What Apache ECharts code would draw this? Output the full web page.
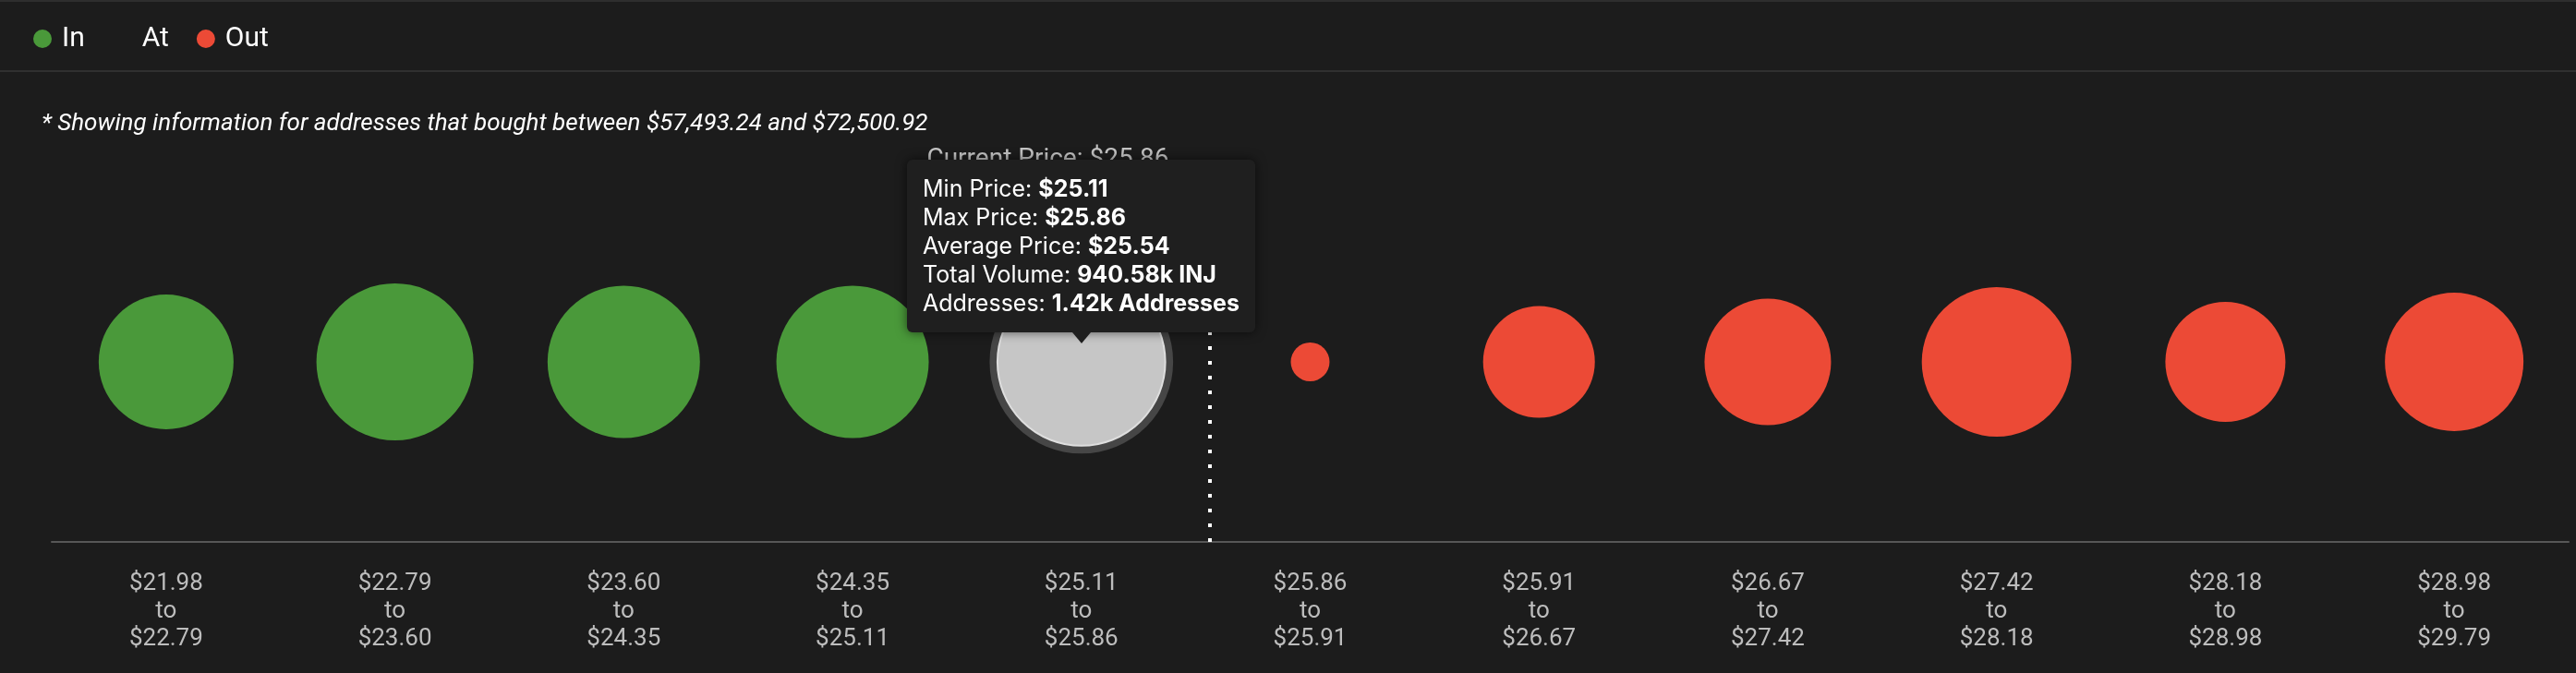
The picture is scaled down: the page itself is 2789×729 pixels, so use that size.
<!DOCTYPE html>
<html>
<head>
<meta charset="utf-8">
<title>In / At / Out of the money</title>
<script src="https://cdn.jsdelivr.net/npm/echarts@6/dist/echarts.min.js"></script>
<style>
  html, body { margin: 0; padding: 0; background: #1c1c1c; }
  #main { width: 2789px; height: 729px; }
</style>
</head>
<body>
<div id="main"></div>
<script>
// price buckets (USD)
const bucketLow = [21.98, 22.79, 23.60, 24.35, 25.11, 25.86, 25.91, 26.67, 27.42, 28.18, 28.98];
const bucketHigh = [22.79, 23.60, 24.35, 25.11, 25.86, 25.91, 26.67, 27.42, 28.18, 28.98, 29.79];
// total volume per bucket, k INJ
const volumes = [719, 975, 918, 918, 940.58, 59.5, 494, 633, 885, 570, 759];
// "in", "at" or "out" of the money
const status = ["in", "in", "in", "in", "at", "out", "out", "out", "out", "out", "out"];

const currentPrice = 25.863;
const hoverIndex = 4;
const hoverAvgPrice = 25.54;
const hoverAddresses = 1.42; // k

const categories = bucketLow.map(function (lo, i) {
  return "$" + lo.toFixed(2) + "\nto\n$" + bucketHigh[i].toFixed(2);
});

// bubble diameter from volume (area proportional)
function sizeOf(v) {
  return 167 * Math.sqrt(v / 940.58);
}

function pick(st) {
  const out = [];
  status.forEach(function (s, i) {
    if (s === st) out.push([i, 0.5, volumes[i]]);
  });
  return out;
}

// position of the current price on a continuous band scale
let pricePos = 0;
bucketLow.forEach(function (lo, i) {
  if (currentPrice >= lo && currentPrice < bucketHigh[i]) {
    pricePos = i - 0.5 + (currentPrice - lo) / (bucketHigh[i] - lo);
  }
});

const myChart = echarts.init(document.getElementById("main"));

function hoverPixel() {
  return myChart.convertToPixel({ seriesIndex: 2 }, [hoverIndex, 0.5]);
}

myChart.setOption({
  backgroundColor: "#1c1c1c",
  animation: false,
  title: {
    text: "* Showing information for addresses that bought between $57,493.24 and $72,500.92",
    left: 40,
    top: 116,
    textStyle: {
      color: "#ffffff",
      fontSize: 26,
      fontStyle: "italic",
      fontWeight: "normal",
      fontFamily: "Roboto"
    }
  },
  legend: {
    left: 31,
    top: 22,
    itemWidth: 32,
    itemHeight: 20,
    itemGap: 30,
    icon: "circle",
    textStyle: { color: "#ffffff", fontSize: 30, fontFamily: "Roboto" },
    data: [
      { name: "In", itemStyle: { color: "#4a993a" } },
      { name: "At", itemStyle: { color: "#1c1c1c", opacity: 0 } },
      { name: "Out", itemStyle: { color: "#ec4a36" } }
    ]
  },
  graphic: [
    { id: "topLine", type: "rect", left: 0, top: 0, shape: { width: 2789, height: 2 }, style: { fill: "#2e2e2e" }, silent: true },
    { id: "sepLine", type: "rect", left: 0, top: 76, shape: { width: 2789, height: 2 }, style: { fill: "#303030" }, silent: true }
  ],
  tooltip: {
    trigger: "item",
    alwaysShowContent: true,
    transitionDuration: 0,
    backgroundColor: "#1f1f1f",
    borderWidth: 0,
    padding: [16, 17],
    textStyle: { color: "#ffffff", fontSize: 25, fontFamily: "Inter" },
    extraCssText: "box-shadow: 0 0 12px rgba(0,0,0,0.6); border-radius: 6px; line-height: 31px;",
    position: function (point, params, dom, rect, size) {
      const p = hoverPixel();
      return [p[0] - size.contentSize[0] / 2, p[1] - 32 - size.contentSize[1]];
    },
    formatter: function (params) {
      const i = params.data[0];
      return "Min Price: <b>$" + bucketLow[i].toFixed(2) + "</b><br/>" +
        "Max Price: <b>$" + bucketHigh[i].toFixed(2) + "</b><br/>" +
        "Average Price: <b>$" + hoverAvgPrice.toFixed(2) + "</b><br/>" +
        "Total Volume: <b>" + volumes[i].toFixed(2) + "k INJ</b><br/>" +
        "Addresses: <b>" + hoverAddresses.toFixed(2) + "k Addresses</b>" +
        '<div style="position:absolute;left:50%;margin-left:-10px;bottom:-12px;width:0;height:0;' +
        'border-left:10px solid transparent;border-right:10px solid transparent;border-top:12px solid #1f1f1f;"></div>';
    }
  },
  grid: { left: 56, right: 8, top: 197, bottom: 142 },
  xAxis: [
    {
      type: "category",
      data: categories,
      axisLine: { lineStyle: { color: "#575757", width: 2 } },
      axisTick: { show: false },
      axisLabel: {
        color: "#bdbdbd",
        fontSize: 26,
        fontFamily: "Roboto",
        lineHeight: 30,
        margin: 30,
        interval: 0
      },
      splitLine: { show: false }
    },
    { type: "value", min: -0.5, max: 10.5, show: false }
  ],
  yAxis: { type: "value", min: 0, max: 1, show: false },
  series: [
    {
      name: "halo",
      type: "scatter",
      silent: true,
      tooltip: { show: false },
      z: 1,
      data: [[hoverIndex, 0.5, volumes[hoverIndex]]],
      symbolSize: function (val) { return sizeOf(val[2]) * 1.1 + 15; },
      itemStyle: { color: "#464646", opacity: 1 }
    },
    {
      name: "In",
      type: "scatter",
      z: 2,
      data: pick("in"),
      symbolSize: function (val) { return sizeOf(val[2]); },
      itemStyle: { color: "#4a993a", opacity: 1 },
      emphasis: { disabled: true }
    },
    {
      name: "At",
      type: "scatter",
      z: 3,
      data: pick("at"),
      // drawn in its hovered (enlarged) state
      symbolSize: function (val) { return sizeOf(val[2]) * 1.1 - 2; },
      itemStyle: { color: "#c6c6c6", borderColor: "#dedede", borderWidth: 2, opacity: 1 },
      emphasis: { disabled: true }
    },
    {
      name: "Out",
      type: "scatter",
      z: 2,
      data: pick("out"),
      symbolSize: function (val) { return sizeOf(val[2]); },
      itemStyle: { color: "#ec4a36", opacity: 1 },
      emphasis: { disabled: true }
    },
    {
      name: "current",
      type: "line",
      xAxisIndex: 1,
      data: [],
      markLine: {
        silent: true,
        symbol: "none",
        label: { show: false },
        lineStyle: { color: "#ffffff", width: 4, type: [4, 12] },
        data: [{ xAxis: pricePos }]
      }
    }
  ]
});

// current price label, placed left of the dotted line (mostly under the tooltip)
const lineX = myChart.convertToPixel({ xAxisIndex: 1 }, pricePos);
myChart.setOption({
  graphic: [
    {
      id: "priceLabel",
      type: "text",
      x: lineX - 44,
      y: 173,
      silent: true,
      style: {
        text: "Current Price: $" + currentPrice.toFixed(2),
        fill: "#c4c4c4",
        fontSize: 28,
        fontFamily: "Roboto",
        align: "right",
        verticalAlign: "middle"
      }
    }
  ]
});

myChart.dispatchAction({ type: "showTip", seriesIndex: 2, dataIndex: 0 });
</script>
</body>
</html>
